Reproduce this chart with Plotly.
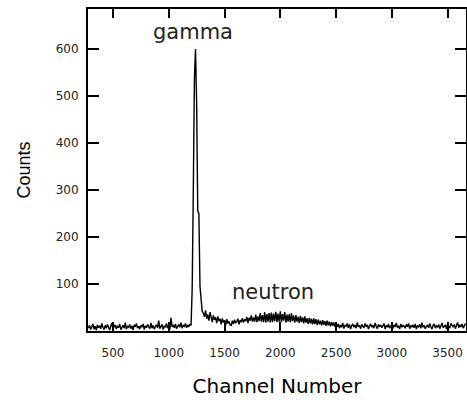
import plotly.graph_objects as go

# ---- data (counts per 10-channel bin) ----
start_channel = 280
channel_step = 10

counts_baseline = [6, 12, 3, 9, 15, 4, 10, 2, 13, 7,
                   11, 5, 16, 8, 3, 12, 6, 14, 9, 2,
                   10, 17, 5, 8, 13, 4, 11, 7, 15, 3,
                   9, 12, 6, 18, 4, 10, 8, 14, 5, 11,
                   2, 13, 9, 16, 6, 10, 4, 12, 8, 15,
                   3, 11, 7, 14, 9, 5, 17, 6, 12, 4,
                   10, 13, 7, 22, 5, 9, 14, 3, 11, 8,
                   16, 6, 12, 4, 28, 9, 13, 7, 15, 5,
                   11, 14, 8, 18, 6, 12, 10, 16, 7, 13,
                   9, 15]
counts_gamma = [12, 90, 296, 537, 600, 485, 255, 250, 95, 60, 42]
counts_after_gamma = [38, 30, 44, 26, 35, 22, 40, 28, 19, 33,
                      24, 29, 17, 31, 21, 26, 14, 27, 18, 23,
                      12, 25, 16, 21, 13]
counts_neutron = [12, 22, 15, 24, 17, 20, 26, 14, 23, 19,
                  27, 18, 25, 21, 30, 17, 28, 22, 33, 20,
                  29, 20, 35, 19, 31, 21, 38, 20, 34, 19,
                  40, 18, 36, 20, 38, 18, 39, 19, 37, 21,
                  41, 19, 37, 20, 42, 19, 36, 22, 40, 18,
                  35, 20, 36, 19, 38, 21, 33, 18, 34, 20,
                  30, 17, 32, 19, 29, 16, 31, 18, 27, 15,
                  28, 16, 26, 14, 27, 15, 25, 13, 24, 14,
                  22, 12, 23, 13, 21, 11, 22, 12, 20, 10,
                  19, 11, 18, 9, 17]
counts_tail = [9, 15, 6, 13, 8, 17, 5, 12, 10, 16,
               7, 14, 4, 11, 15, 8, 13, 6, 18, 9,
               12, 5, 14, 10, 7, 16, 9, 13, 4, 11,
               15, 8, 12, 6, 17, 10, 5, 14, 9, 13,
               7, 11, 16, 4, 12, 8, 15, 6, 10, 14,
               5, 13, 9, 17, 7, 11, 4, 15, 8, 12,
               10, 6, 14, 9, 16, 5, 12, 8, 13, 7,
               15, 4, 11, 9, 14, 6, 18, 8, 12, 5,
               10, 13, 7, 16, 9, 4, 12, 15, 6, 11,
               8, 14, 5, 12, 17, 7, 10, 13, 4, 15,
               9, 6, 16, 11, 8, 14, 5, 12, 18, 7,
               13, 9, 15, 6, 11, 16]

x_tick_values = [500, 1000, 1500, 2000, 2500, 3000, 3500]
y_tick_values = [100, 200, 300, 400, 500, 600]

peak_labels = ["gamma", "neutron"]
peak_label_x = [1214, 1939]
peak_label_y = [636, 84]

counts = counts_baseline + counts_gamma + counts_after_gamma + counts_neutron + counts_tail
channels = [start_channel + channel_step * i for i in range(len(counts))]

fig = go.Figure()
fig.add_trace(go.Scatter(x=channels, y=counts, mode="lines",
                         line=dict(color="black", width=1.4), showlegend=False,
                         hoverinfo="skip"))

for txt, lx, ly in zip(peak_labels, peak_label_x, peak_label_y):
    fig.add_annotation(x=lx, y=ly, xref="x", yref="y", text=txt, showarrow=False,
                       xanchor="center", yanchor="middle",
                       font=dict(family="DejaVu Sans", size=21, color="#222"))

axis_common = dict(showline=True, linecolor="black", linewidth=2, mirror="ticks",
                   ticks="inside", tickcolor="black", tickwidth=2,
                   showgrid=False, zeroline=False)

fig.update_xaxes(range=[276, 3665], tickvals=x_tick_values, ticklen=9,
                 tickfont=dict(family="DejaVu Sans", size=12, color="#222"),
                 ticklabelstandoff=10,
                 title=dict(text="Channel Number", standoff=20,
                            font=dict(family="DejaVu Sans", size=20, color="black")),
                 **axis_common)
fig.update_yaxes(range=[0, 685], tickvals=y_tick_values, ticklen=11,
                 tickfont=dict(family="DejaVu Sans", size=12, color="#222"),
                 ticklabelstandoff=5,
                 title=dict(text="Counts", standoff=20,
                            font=dict(family="Liberation Sans", size=18, color="black")),
                 **axis_common)

fig.update_layout(width=467, height=405,
                  margin=dict(l=88, r=1, t=9, b=74, autoexpand=False),
                  paper_bgcolor="white", plot_bgcolor="white")

# remove the browser's default 8px page margin so the figure fills the window exactly
fig.write_html("out.html",
               config={"displayModeBar": False},
               post_script="document.body.style.margin='0';"
                           "document.documentElement.style.overflow='hidden';")
